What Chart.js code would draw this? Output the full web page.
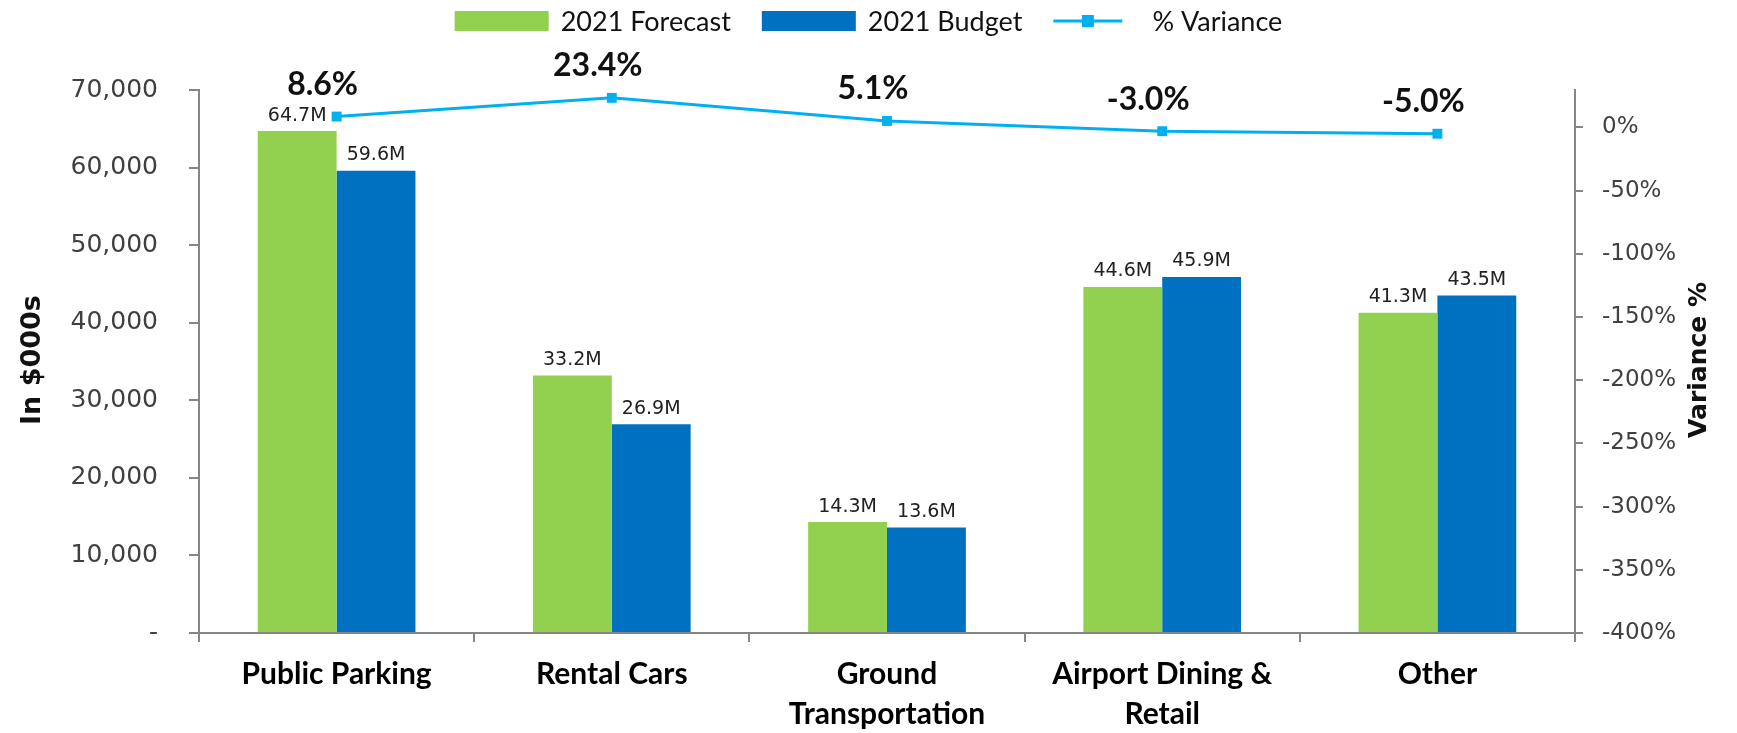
<!DOCTYPE html>
<html>
<head>
<meta charset="utf-8">
<script src="https://cdn.jsdelivr.net/npm/chart.js@4.4.1/dist/chart.umd.min.js"></script>
<style>
  html, body { margin: 0; padding: 0; background: #fff; }
  #wrap { width: 1737px; height: 733px; }
</style>
</head>
<body>
<div id="wrap"><canvas id="chart"></canvas></div>
<script>
'use strict';

var categories = [['Public Parking'], ['Rental Cars'], ['Ground', 'Transportation'], ['Airport Dining &', 'Retail'], ['Other']];
var forecast = [64700, 33200, 14300, 44600, 41300];
var budget = [59600, 26900, 13600, 45900, 43500];
var variance = [8.6, 23.4, 5.1, -3.0, -5.0];

var GREEN = '#92D050';
var BLUE = '#0070C0';
var LINE = '#00B0F0';
var AXIS = '#868686';

var labelsPlugin = {
  id: 'labels',
  afterDatasetsDraw: function(chart) {
    var ctx = chart.ctx;
    ctx.save();
    // bar value labels
    ctx.font = '19px "DejaVu Sans"';
    ctx.fillStyle = '#222';
    ctx.textAlign = 'center';
    ctx.textBaseline = 'bottom';
    [0, 1].forEach(function(di) {
      var meta = chart.getDatasetMeta(di);
      meta.data.forEach(function(bar, i) {
        var v = chart.data.datasets[di].data[i];
        ctx.fillText((v / 1000).toFixed(1) + 'M', bar.x, bar.y - 6);
      });
    });
    // variance labels, sit a bit left of the marker like excel does
    ctx.font = 'bold 32px Lato';
    ctx.fillStyle = '#111';
    var lmeta = chart.getDatasetMeta(2);
    lmeta.data.forEach(function(pt, i) {
      ctx.fillText(variance[i].toFixed(1) + '%', pt.x - 14, pt.y - 16);
    });
    ctx.restore();
  },
  afterDraw: function(chart) {
    var ctx = chart.ctx;
    ctx.save();
    // axis titles
    ctx.fillStyle = '#111';
    ctx.textAlign = 'center';
    ctx.textBaseline = 'middle';
    ctx.font = 'bold 27px "DejaVu Sans"';
    ctx.translate(33, 360);
    ctx.rotate(-Math.PI / 2);
    ctx.fillText('In $000s', 0, 0);
    ctx.setTransform(1, 0, 0, 1, 0, 0);
    ctx.font = 'bold 25px "DejaVu Sans"';
    ctx.translate(1699, 360);
    ctx.rotate(-Math.PI / 2);
    ctx.fillText('Variance %', 0, 0);
    ctx.setTransform(1, 0, 0, 1, 0, 0);

    // legend
    ctx.font = '27px Lato';
    ctx.textAlign = 'left';
    var items = [
      { text: '2021 Forecast', kind: 'box', color: GREEN, w: 94, gap: 12 },
      { text: '2021 Budget', kind: 'box', color: BLUE, w: 94, gap: 12 },
      { text: '% Variance', kind: 'line', color: LINE, w: 69, gap: 30 }
    ];
    var gapOut = 31;
    var total = 0;
    items.forEach(function(it, i) {
      it.tw = ctx.measureText(it.text).width;
      total += it.w + it.gap + it.tw + (i < items.length - 1 ? gapOut : 0);
    });
    var x = (chart.width - total) / 2;
    var cy = 21;
    items.forEach(function(it) {
      if (it.kind === 'box') {
        ctx.fillStyle = it.color;
        ctx.fillRect(x, cy - 10, it.w, 20);
      } else {
        ctx.strokeStyle = it.color;
        ctx.lineWidth = 3;
        ctx.beginPath();
        ctx.moveTo(x, cy);
        ctx.lineTo(x + it.w, cy);
        ctx.stroke();
        ctx.fillStyle = it.color;
        ctx.fillRect(x + it.w / 2 - 6, cy - 6, 12, 12);
      }
      ctx.fillStyle = '#111';
      ctx.fillText(it.text, x + it.w + it.gap, cy + 1);
      x += it.w + it.gap + it.tw + gapOut;
    });
    ctx.restore();
  }
};

var ctx = document.getElementById('chart');
var chart = new Chart(ctx, {
  type: 'bar',
  data: {
    labels: categories,
    datasets: [{
        label: '2021 Forecast',
        data: forecast,
        backgroundColor: GREEN,
        yAxisID: 'y',
        order: 1,
        categoryPercentage: 0.573,
        barPercentage: 1.0
      },
      {
        label: '2021 Budget',
        data: budget,
        backgroundColor: BLUE,
        yAxisID: 'y',
        order: 1,
        categoryPercentage: 0.573,
        barPercentage: 1.0
      },
      {
        type: 'line',
        label: '% Variance',
        data: variance,
        yAxisID: 'y1',
        order: 0,
        borderColor: LINE,
        borderWidth: 3,
        pointStyle: 'rect',
        pointRadius: 7,
        pointBackgroundColor: LINE,
        pointBorderColor: LINE,
        pointBorderWidth: 0
      }
    ]
  },
  options: {
    responsive: true,
    maintainAspectRatio: false,
    animation: false,
    layout: { padding: { top: 90, left: 0, right: 0, bottom: 0 } },
    plugins: {
      legend: { display: false },
      tooltip: { enabled: false }
    },
    scales: {
      x: {
        offset: true,
        grid: { drawOnChartArea: false, offset: true, tickLength: 9, color: AXIS, lineWidth: 2 },
        border: { color: AXIS, width: 2 },
        ticks: {
          font: { family: 'Lato', weight: 'bold', size: 30, lineHeight: 1.33 },
          color: '#000',
          padding: 12,
          maxRotation: 0,
          autoSkip: false
        },
        afterFit: function(scale) { scale.height = 100; }
      },
      y: {
        position: 'left',
        min: 0,
        max: 70000,
        grid: { drawOnChartArea: false, tickLength: 10, color: AXIS, lineWidth: 2 },
        border: { color: AXIS, width: 2 },
        ticks: {
          stepSize: 10000,
          padding: 31,
          color: '#404040',
          font: { family: 'DejaVu Sans', size: 25 },
          callback: function(v) { return v === 0 ? '-' : v.toLocaleString('en-US'); }
        },
        afterFit: function(scale) { scale.width = 199; }
      },
      y1: {
        position: 'right',
        min: -400,
        max: 29.6,
        grid: { drawOnChartArea: false, tickLength: 8, color: AXIS, lineWidth: 2 },
        border: { color: AXIS, width: 2 },
        ticks: {
          stepSize: 50,
          padding: 19,
          color: '#404040',
          font: { family: 'DejaVu Sans', size: 23 },
          callback: function(v) { return v + '%'; }
        },
        afterBuildTicks: function(scale) {
          scale.ticks = scale.ticks.filter(function(t) { return t.value % 50 === 0; });
        },
        afterFit: function(scale) { scale.width = 162; }
      }
    }
  },
  plugins: [labelsPlugin]
});
</script>
</body>
</html>
